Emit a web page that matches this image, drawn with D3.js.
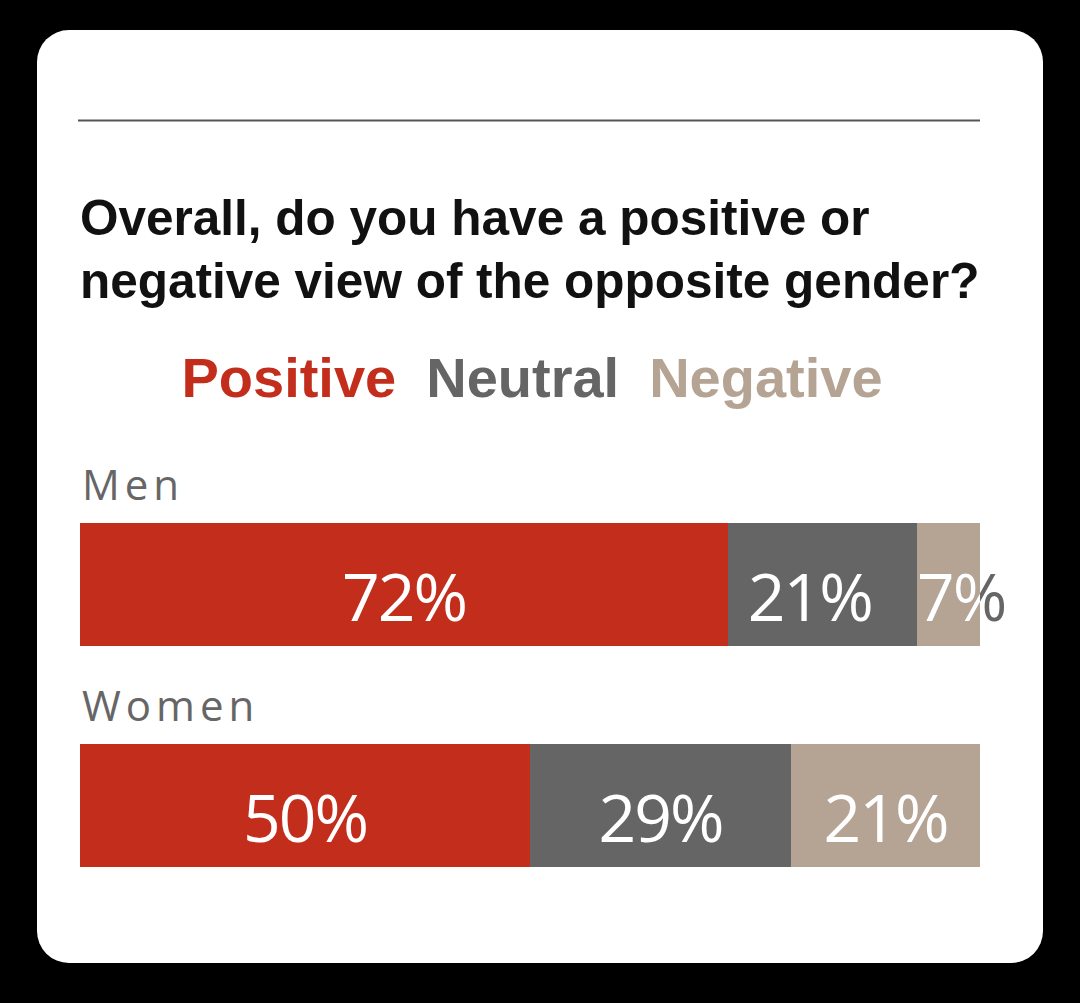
<!DOCTYPE html>
<html>
<head>
<meta charset="utf-8">
<script src="https://cdn.jsdelivr.net/npm/d3@7"></script>
<style>
  html, body { margin: 0; padding: 0; background: #000; }
  svg { display: block; }
</style>
</head>
<body>
<svg id="chart" width="1080" height="1003"></svg>
<script>
// ---- Data ----
const titleLines = ["Overall, do you have a positive or", "negative view of the opposite gender?"];
const seriesNames = ["Positive", "Neutral", "Negative"];
const seriesColors = ["#c22e1b", "#656565", "#b5a393"];
const groups = ["Men", "Women"];
const positiveValues = [72, 50];
const neutralValues = [21, 29];
const negativeValues = [7, 21];

const svg = d3.select("#chart");

// card
svg.append("rect").attr("x", 37).attr("y", 30).attr("width", 1006).attr("height", 933)
  .attr("rx", 32).attr("ry", 32).attr("fill", "#fff");

// top rule
svg.append("line").attr("x1", 78).attr("x2", 980).attr("y1", 120.5).attr("y2", 120.5)
  .attr("stroke", "#555").attr("stroke-width", 2);

// title
const titleBaselines = [235, 298];
titleLines.forEach((t, i) => {
  svg.append("text").attr("x", 80).attr("y", titleBaselines[i])
    .attr("font-family", "Liberation Sans, Arial, sans-serif")
    .attr("font-weight", 700).attr("font-size", 49.5)
    .attr("fill", "#111").text(t);
});

// scales
const x = d3.scaleLinear().domain([0, 100]).range([80, 980]);
const color = d3.scaleOrdinal().domain(seriesNames).range(seriesColors);

// legend
const legend = svg.append("g");
let lx = 0;
const legendGap = 30;
seriesNames.forEach((s) => {
  const t = legend.append("text").attr("x", lx).attr("y", 397)
    .attr("font-family", "Liberation Sans, Arial, sans-serif")
    .attr("font-weight", 700).attr("font-size", 56)
    .attr("fill", color(s)).text(s);
  lx += t.node().getComputedTextLength() + legendGap;
});
const legendW = lx - legendGap;
legend.attr("transform", `translate(${532 - legendW / 2},0)`);

const barTop = { Men: 523, Women: 744 };
const barH = 123;

const rows = groups.map((g, i) => {
  const vals = [positiveValues[i], neutralValues[i], negativeValues[i]];
  let acc = 0;
  return { group: g, segs: vals.map((v, k) => { const s = { name: seriesNames[k], v, x0: acc, x1: acc + v }; acc += v; return s; }) };
});

const defs = svg.append("defs");

rows.forEach((row, ri) => {
  const g = svg.append("g");
  const top = barTop[row.group];
  // category label
  g.append("text").attr("x", 82).attr("y", top - 23)
    .attr("font-family", "Open Sans, sans-serif").attr("font-weight", 400)
    .attr("font-size", 42).attr("letter-spacing", 5)
    .attr("fill", "#666").text(row.group);

  g.selectAll("rect.seg").data(row.segs).join("rect").attr("class", "seg")
    .attr("x", d => x(d.x0)).attr("y", top)
    .attr("width", d => x(d.x1) - x(d.x0)).attr("height", barH)
    .attr("fill", d => color(d.name));

  const fontAttrs = sel => sel.attr("font-family", "Open Sans, sans-serif").attr("font-weight", 400)
    .attr("font-size", 66).attr("letter-spacing", -2).attr("text-anchor", "middle");
  const labels = row.segs.map(d => {
    const t = g.append("text").call(fontAttrs).attr("y", top + barH / 2 + 36).text(d.v + "%");
    const w = t.node().getComputedTextLength();
    return { d, t, w, cx: (x(d.x0) + x(d.x1)) / 2 };
  });
  // resolve overflow: an overflowing label is pushed right, its neighbour left
  labels.forEach((l, k) => {
    const segW = x(l.d.x1) - x(l.d.x0);
    const over = l.w - segW;
    if (over > 0) {
      l.cx += over / 2;
      if (k > 0) labels[k - 1].cx -= over / 2;
    }
  });
  labels.forEach((l, k) => {
    l.t.attr("x", l.cx);
    const segW = x(l.d.x1) - x(l.d.x0);
    if (l.w > segW) {
      const id = "clip" + ri + "_" + k;
      defs.append("clipPath").attr("id", id).append("rect")
        .attr("x", x(l.d.x0)).attr("y", top).attr("width", segW).attr("height", barH);
      l.t.attr("fill", "#666");
      g.append("text").call(fontAttrs).attr("x", l.cx).attr("y", top + barH / 2 + 36)
        .attr("fill", "#fff").attr("clip-path", `url(#${id})`).text(l.d.v + "%");
    } else {
      l.t.attr("fill", "#fff");
    }
  });
});
</script>
</body>
</html>
